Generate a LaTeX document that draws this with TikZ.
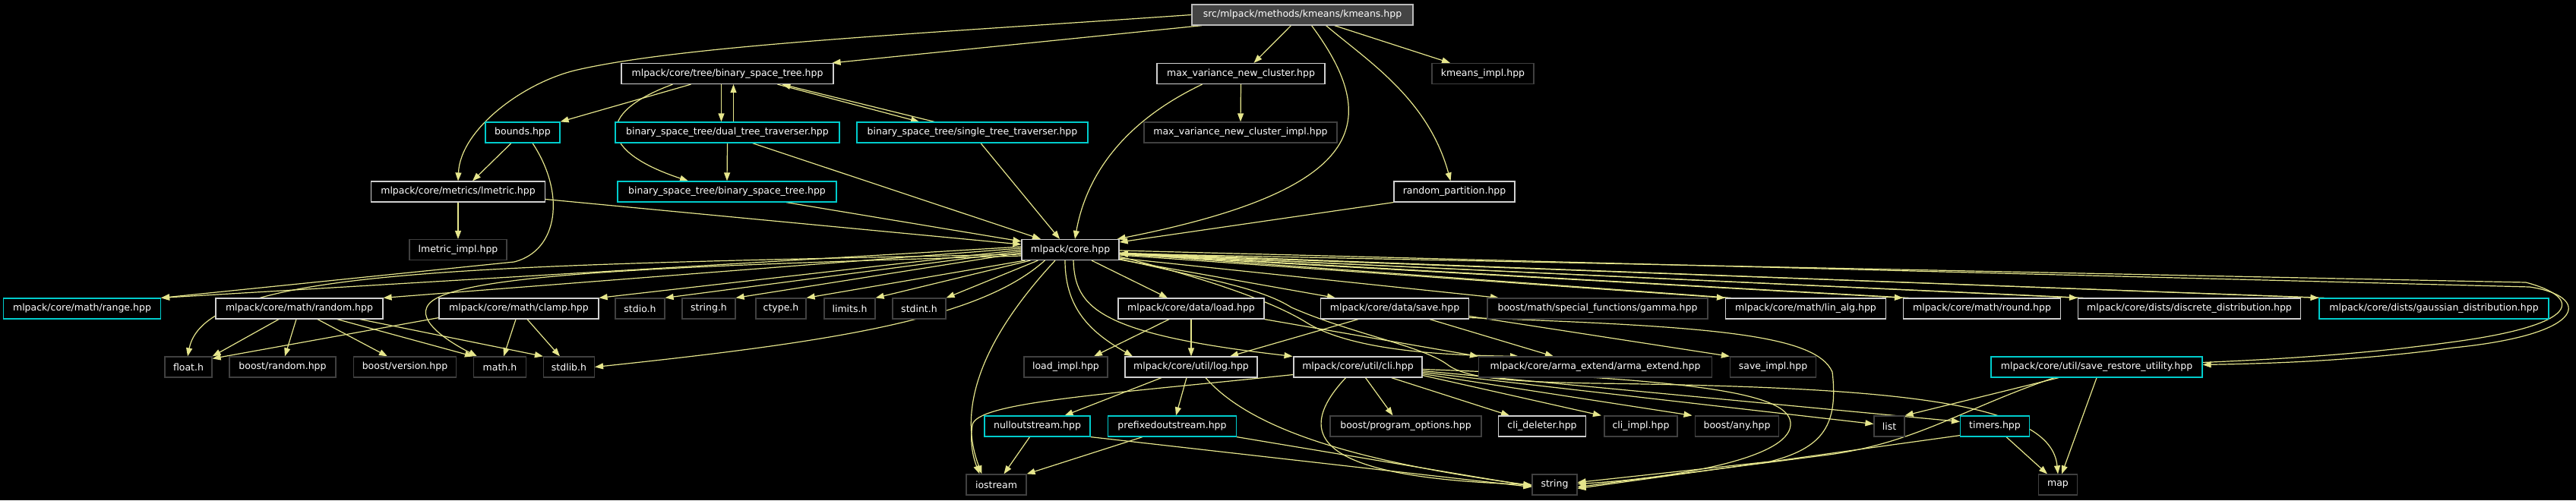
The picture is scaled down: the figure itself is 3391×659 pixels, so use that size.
\documentclass[tikz,border=0pt]{standalone}
\usepackage{fontspec}
\newfontfamily\graphfont{DejaVu Sans}
\usepackage{tikz}
\usetikzlibrary{arrows.meta,backgrounds}
\definecolor{edgekhaki}{HTML}{E6E68C}
\definecolor{docgray}{HTML}{D0D0D0}
\definecolor{extgray}{HTML}{404040}
\definecolor{linkcyan}{HTML}{00CCCC}
\definecolor{topfill}{HTML}{444444}

\begin{document}
\begin{tikzpicture}[x=1pt,y=-1pt,
  file/.style={rectangle,draw=docgray,fill=black,text=white,inner sep=0pt,minimum height=27pt,line width=1.2pt,font=\graphfont\fontsize{12.5}{15}\selectfont},
  extfile/.style={file,draw=extgray},
  linkfile/.style={file,draw=linkcyan},
  topfile/.style={file,fill=topfill,draw=docgray!90!black},
  inc/.style={-{Triangle[length=11pt,width=8pt]},line width=1.2pt,draw=edgekhaki}
]
\useasboundingbox (0,0) rectangle (3391,659);
\node[topfile,minimum width=291pt] (kmeans) at (1714.5,19.5) {src/mlpack/methods/kmeans/kmeans.hpp};
\node[file,minimum width=279pt] (bst) at (957.5,97) {mlpack/core/tree/binary\_space\_tree.hpp};
\node[file,minimum width=221pt] (maxvar) at (1633.5,97) {max\_variance\_new\_cluster.hpp};
\node[extfile,minimum width=134pt] (kmimpl) at (1952,97) {kmeans\_impl.hpp};
\node[linkfile,minimum width=98pt] (bounds) at (688,174.5) {bounds.hpp};
\node[linkfile,minimum width=295pt] (dual) at (957.5,174.5) {binary\_space\_tree/dual\_tree\_traverser.hpp};
\node[linkfile,minimum width=304pt] (single) at (1280,174.5) {binary\_space\_tree/single\_tree\_traverser.hpp};
\node[extfile,minimum width=254pt] (mvimpl) at (1633,174.5) {max\_variance\_new\_cluster\_impl.hpp};
\node[file,minimum width=229pt] (lmetric) at (603,252.5) {mlpack/core/metrics/lmetric.hpp};
\node[linkfile,minimum width=288pt] (bstbst) at (957,252.5) {binary\_space\_tree/binary\_space\_tree.hpp};
\node[file,minimum width=159pt] (randpart) at (1914.5,252.5) {random\_partition.hpp};
\node[extfile,minimum width=128pt] (lmimpl) at (603,329) {lmetric\_impl.hpp};
\node[file,minimum width=128pt] (core) at (1409,329) {mlpack/core.hpp};
\node[linkfile,minimum width=207pt] (range) at (108,406.5) {mlpack/core/math/range.hpp};
\node[file,minimum width=220pt] (random) at (394,406.5) {mlpack/core/math/random.hpp};
\node[file,minimum width=210pt] (clamp) at (683,406.5) {mlpack/core/math/clamp.hpp};
\node[extfile,minimum width=65pt] (stdio) at (842.5,406.5) {stdio.h};
\node[extfile,minimum width=70pt] (stringh) at (933,406.5) {string.h};
\node[extfile,minimum width=66pt] (ctype) at (1028,406.5) {ctype.h};
\node[extfile,minimum width=67pt] (limits) at (1118.5,406.5) {limits.h};
\node[extfile,minimum width=70pt] (stdint) at (1210,406.5) {stdint.h};
\node[file,minimum width=192pt] (load) at (1568,406.5) {mlpack/core/data/load.hpp};
\node[file,minimum width=195pt] (save) at (1836,406.5) {mlpack/core/data/save.hpp};
\node[extfile,minimum width=290pt] (gamma) at (2103,406.5) {boost/math/special\_functions/gamma.hpp};
\node[file,minimum width=211pt] (linalg) at (2377,406.5) {mlpack/core/math/lin\_alg.hpp};
\node[file,minimum width=207pt] (round) at (2609,406.5) {mlpack/core/math/round.hpp};
\node[file,minimum width=293pt] (discrete) at (2882,406.5) {mlpack/core/dists/discrete\_distribution.hpp};
\node[linkfile,minimum width=302pt] (gaussian) at (3204,406.5) {mlpack/core/dists/gaussian\_distribution.hpp};
\node[extfile,minimum width=62pt] (float) at (248,483.5) {float.h};
\node[extfile,minimum width=140pt] (brandom) at (372,483.5) {boost/random.hpp};
\node[extfile,minimum width=135pt] (bversion) at (533,483.5) {boost/version.hpp};
\node[extfile,minimum width=69pt] (math) at (658,483.5) {math.h};
\node[extfile,minimum width=67pt] (stdlib) at (749,483.5) {stdlib.h};
\node[extfile,minimum width=110pt] (loadimpl) at (1403,483.5) {load\_impl.hpp};
\node[file,minimum width=174pt] (log) at (1568,483.5) {mlpack/core/util/log.hpp};
\node[file,minimum width=169pt] (cli) at (1787.5,483.5) {mlpack/core/util/cli.hpp};
\node[extfile,minimum width=307pt] (arma) at (2100,483.5) {mlpack/core/arma\_extend/arma\_extend.hpp};
\node[extfile,minimum width=113pt] (saveimpl) at (2334,483.5) {save\_impl.hpp};
\node[linkfile,minimum width=278pt] (sru) at (2760,483.5) {mlpack/core/util/save\_restore\_utility.hpp};
\node[linkfile,minimum width=139pt] (nullout) at (1365.5,561.5) {nulloutstream.hpp};
\node[linkfile,minimum width=169pt] (prefixed) at (1543,561.5) {prefixedoutstream.hpp};
\node[extfile,minimum width=199pt] (bpo) at (1850.5,561.5) {boost/program\_options.hpp};
\node[file,minimum width=115pt] (clideleter) at (2030,561.5) {cli\_deleter.hpp};
\node[extfile,minimum width=96pt] (cliimpl) at (2160,561.5) {cli\_impl.hpp};
\node[extfile,minimum width=110pt] (bany) at (2286.5,561.5) {boost/any.hpp};
\node[extfile,minimum width=40pt] (list) at (2487,561.5) {list};
\node[linkfile,minimum width=91pt] (timers) at (2626,561.5) {timers.hpp};
\node[extfile,minimum width=79pt] (iostream) at (1311.5,638.5) {iostream};
\node[extfile,minimum width=59pt] (string) at (2046.5,638.5) {string};
\node[extfile,minimum width=51pt] (map) at (2709,638.5) {map};
\begin{scope}[on background layer]
\fill[black] (0,0) rectangle (3391,659);
\draw[inc] (kmeans.west) .. controls (1200,45) and (900,60) .. (760,92) .. controls (690,108) and (606,170) .. (lmetric.north);
\draw[inc] ([xshift=14pt]kmeans.south west) -- ([xshift=-2pt]bst.north east);
\draw[inc] ([xshift=-15pt]kmeans.south) -- ([xshift=17pt]maxvar.north);
\draw[inc] ([xshift=12pt]kmeans.south) .. controls (1820,160) and (1800,250) .. ([xshift=-3pt]core.north east);
\draw[inc] ([xshift=31pt]kmeans.south) .. controls (1800,80) and (1880,130) .. ([xshift=-5pt]randpart.north);
\draw[inc] ([xshift=42pt]kmeans.south) -- ([xshift=-43pt]kmimpl.north);
\draw[inc] ([xshift=-48pt]bst.south) -- (bounds.north east);
\draw[inc] ([xshift=-8pt]bst.south) -- ([xshift=-8pt]dual.north);
\draw[inc] ([xshift=8pt]dual.north) -- ([xshift=8pt]bst.south);
\draw[inc] ([xshift=66pt]bst.south) -- ([xshift=-70pt]single.north);
\draw[inc] ([xshift=-50pt]single.north) -- ([xshift=72pt]bst.south);
\draw[inc] ([xshift=-72pt]bst.south) .. controls (780,150) and (790,200) .. ([xshift=-51pt]bstbst.north);
\draw[inc] (dual.south) -- (bstbst.north);
\draw[inc] ([xshift=33pt]dual.south) -- ([xshift=-39pt]core.north);
\draw[inc] ([xshift=11pt]single.south) -- ([xshift=-14pt]core.north);
\draw[inc] ([xshift=-15pt]bounds.south) -- ([xshift=19pt]lmetric.north);
\draw[inc] ([xshift=13pt]bounds.south) .. controls (745,255) and (735,330) .. (677,345) -- (range.north east);
\draw[inc] (lmetric.south) -- (lmimpl.north);
\draw[inc] ([yshift=-10pt]lmetric.east) -- ([yshift=7pt]core.west);
\draw[inc] ([xshift=78pt]bstbst.south) -- ([yshift=11pt]core.west);
\draw[inc] (maxvar.south) -- (mvimpl.north);
\draw[inc] ([xshift=-51pt]maxvar.south) .. controls (1480,160) and (1430,230) .. ([xshift=6pt]core.north);
\draw[inc] (randpart.south west) -- ([yshift=10pt]core.east);
\draw[inc] ([yshift=4pt]core.west) -- (range.north east);
\draw[inc] ([yshift=2pt]core.west) -- (random.north east);
\draw[inc] (core.west) -- (clamp.north east);
\draw[inc] ([yshift=-2pt]core.west) -- (stdio.north east);
\draw[inc] ([yshift=-4pt]core.west) -- (stringh.north east);
\draw[inc] ([xshift=5pt]core.south west) -- (ctype.north east);
\draw[inc] ([xshift=12pt]core.south west) -- (limits.north east);
\draw[inc] ([xshift=22pt]core.south west) -- (stdint.north east);
\draw[inc] ([yshift=-6pt]core.west) .. controls (600,350) and (270,355) .. ([xshift=-1pt]float.north);
\draw[inc] ([yshift=-8pt]core.west) .. controls (900,350) and (600,360) .. (565,400) .. controls (544,424) and (600,455) .. ([xshift=-30pt]math.north);
\draw[inc] ([xshift=31pt]core.south west) .. controls (1290,420) and (1100,450) .. (stdlib.east);
\draw[inc] ([xshift=-20pt]core.south) .. controls (1290,450) and (1260,540) .. ([xshift=-19pt]iostream.north);
\draw[inc] ([xshift=-7pt]core.south) .. controls (1402,410) and (1440,440) .. ([xshift=-77pt]log.north);
\draw[inc] ([xshift=4pt]core.south) .. controls (1415,405) and (1445,440) .. ([xshift=-86pt]cli.north);
\draw[inc] ([xshift=28pt]core.south) -- ([xshift=-31pt]load.north);
\draw[inc] ([yshift=-13pt]core.east) -- ([xshift=-78pt]save.north);
\draw[inc] ([yshift=-11pt]core.east) -- ([xshift=-130pt]gamma.north);
\draw[inc] ([yshift=-9pt]core.east) .. controls (1600,370) and (1680,400) .. (1720,425) .. controls (1780,462) and (1900,468) .. ([xshift=-101pt]arma.north);
\draw[inc] ([yshift=-12pt]core.east) .. controls (1600,370) and (1660,380) .. (1700,405) .. controls (1780,440) and (1870,455) .. (1905,480) .. controls (1930,500) and (2000,503) .. (2100,505) .. controls (2500,510) and (2700,530) .. (map.north);
\draw[inc] ([yshift=-7pt]core.east) -- (linalg.north west);
\draw[inc] ([xshift=8pt]linalg.north west) -- ([yshift=-5pt]core.east);
\draw[inc] ([yshift=-6pt]core.east) -- (round.north west);
\draw[inc] ([xshift=8pt]round.north west) -- ([yshift=-5pt]core.east);
\draw[inc] ([yshift=-5pt]core.east) -- (discrete.north west);
\draw[inc] ([xshift=8pt]discrete.north west) -- ([yshift=-5pt]core.east);
\draw[inc] ([yshift=-4pt]core.east) -- (gaussian.north west);
\draw[inc] ([xshift=8pt]gaussian.north west) -- ([yshift=-5pt]core.east);
\draw[inc] ([yshift=-1pt]core.east) -- (3330,378) .. controls (3410,390) and (3410,440) .. (3230,458) .. controls (3100,476) and (2980,479) .. ([yshift=3pt]sru.east);
\draw[inc] ([yshift=6pt]sru.east) .. controls (2980,474) and (3100,468) .. (3225,451) .. controls (3400,428) and (3400,392) .. (3325,372) -- ([yshift=-5pt]core.east);
\draw[inc] ([xshift=-29pt]load.south) -- ([xshift=37pt]loadimpl.north);
\draw[inc] (load.south) -- (log.north);
\draw[inc] (load.south east) -- (arma.north west);
\draw[inc] ([xshift=-48pt]save.south) -- ([xshift=51pt]log.north);
\draw[inc] ([xshift=46pt]save.south) -- ([xshift=-55pt]arma.north);
\draw[inc] ([yshift=-10pt]save.east) -- (saveimpl.north west);
\draw[inc] ([yshift=-12pt]save.east) .. controls (2250,430) and (2390,440) .. (2412,490) .. controls (2420,560) and (2400,590) .. (2330,608) -- ([yshift=3pt]string.east);
\draw[inc] ([xshift=-39pt]log.south) -- ([xshift=36pt]nullout.north);
\draw[inc] ([xshift=-6pt]log.south) -- ([xshift=5pt]prefixed.north);
\draw[inc] ([xshift=19pt]log.south) .. controls (1650,570) and (1800,610) .. ([yshift=-1pt]string.west);
\draw[inc] ([xshift=-10pt]nullout.south) -- ([xshift=10pt]iostream.north);
\draw[inc] (nullout.south east) -- ([yshift=-3pt]string.west);
\draw[inc] ([xshift=-39pt]prefixed.south) -- (iostream.north east);
\draw[inc] (prefixed.south east) -- ([yshift=-2pt]string.west);
\draw[inc] ([yshift=-10pt]cli.west) .. controls (1450,520) and (1285,530) .. (1280,560) .. controls (1276,585) and (1282,605) .. ([xshift=-22pt]iostream.north);
\draw[inc] ([xshift=-16pt]cli.south) .. controls (1690,585) and (1760,630) .. (string.west);
\draw[inc] ([xshift=10pt]cli.south) -- ([xshift=-17pt]bpo.north);
\draw[inc] ([xshift=44pt]cli.south) -- ([xshift=-43pt]clideleter.north);
\draw[inc] ([yshift=-11pt]cli.east) -- ([xshift=-52pt]cliimpl.north);
\draw[inc] ([yshift=-9pt]cli.east) -- ([xshift=-59pt]bany.north);
\draw[inc] ([yshift=-7pt]cli.east) -- ([yshift=3pt]list.west);
\draw[inc] ([yshift=-5pt]cli.east) -- ([yshift=6pt]timers.west);
\draw[inc] ([yshift=-3pt]cli.east) .. controls (2250,500) and (2360,520) .. (2357,560) .. controls (2354,605) and (2200,630) .. ([yshift=1pt]string.east);
\draw[inc] ([xshift=-50pt]sru.south) -- (list.north east);
\draw[inc] ([xshift=-56pt]sru.south) .. controls (2580,540) and (2520,585) .. (2400,600) -- ([yshift=-3pt]string.east);
\draw[inc] (sru.south) -- ([xshift=5pt]map.north);
\draw[inc] ([xshift=15pt]timers.south) -- ([xshift=-14pt]map.north);
\draw[inc] ([yshift=2pt]timers.south west) -- ([yshift=-5pt]string.east);
\draw[inc] ([xshift=-27pt]random.south) -- (float.north east);
\draw[inc] ([xshift=-4pt]random.south) -- ([xshift=3pt]brandom.north);
\draw[inc] ([xshift=24pt]random.south) -- ([xshift=-23pt]bversion.north);
\draw[inc] ([xshift=50pt]random.south) -- (math.north west);
\draw[inc] ([xshift=80pt]random.south) -- (stdlib.north west);
\draw[inc] ([yshift=2pt]clamp.south west) -- ([yshift=-3pt]float.north east);
\draw[inc] ([xshift=-4pt]clamp.south) -- ([xshift=5pt]math.north);
\draw[inc] ([xshift=11pt]clamp.south) -- ([xshift=-12pt]stdlib.north);
\end{scope}
\end{tikzpicture}
\end{document}
